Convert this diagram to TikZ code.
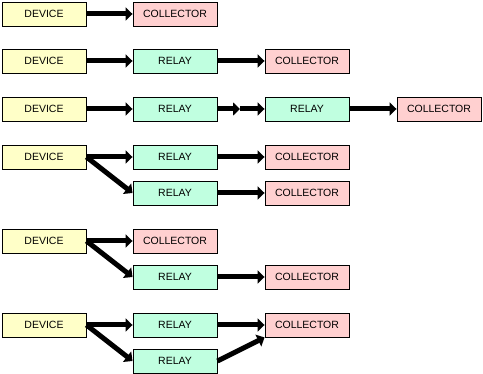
\documentclass[tikz,border=0pt]{standalone}
\usepackage{fontspec}
\setmainfont{Liberation Sans}
\usetikzlibrary{arrows.meta,positioning}
\definecolor{devfill}{HTML}{FFFFC8}
\definecolor{relfill}{HTML}{C0FFE0}
\definecolor{colfill}{HTML}{FFD0D0}
\begin{document}
\begin{tikzpicture}[x=1pt, y=-1pt,
  box/.style={draw=black, line width=0.9pt, minimum width=84pt,
              minimum height=24pt, inner sep=0pt, font=\fontsize{10.5}{12}\selectfont},
  device/.style={box, fill=devfill},
  relay/.style={box, fill=relfill},
  collector/.style={box, fill=colfill},
  arr/.style={-{Triangle[length=7pt, width=13pt]}, line width=5pt}
]
  \useasboundingbox (0,0) rectangle (483,374);

  % Direct
  \node[device] (dev1) at (44,14) {DEVICE};
  \node[collector] (col1) at (175,14) {COLLECTOR};
  \draw[arr] (dev1) -- (col1);

  % One relay
  \node[device] (dev2) at (44,61) {DEVICE};
  \node[relay] (rel2) at (175,61) {RELAY};
  \node[collector] (col2) at (307,61) {COLLECTOR};
  \draw[arr] (dev2) -- (rel2);
  \draw[arr] (rel2) -- (col2);

  % Two relays in a row
  \node[device] (dev3) at (44,109) {DEVICE};
  \node[relay] (rel3a) at (175,109) {RELAY};
  \node[relay] (rel3b) at (307,109) {RELAY};
  \node[collector] (col3) at (439,109) {COLLECTOR};
  \coordinate (mid3) at (240,109);
  \draw[arr] (dev3) -- (rel3a);
  \draw[arr] (rel3a) -- (mid3);
  \draw[arr] (mid3) -- (rel3b);
  \draw[arr] (rel3b) -- (col3);

  % Fan out to two relays
  \node[device] (dev4) at (44,157) {DEVICE};
  \node[relay] (rel4a) at (175,157) {RELAY};
  \node[relay] (rel4b) at (175,193) {RELAY};
  \node[collector] (col4a) at (307,157) {COLLECTOR};
  \node[collector] (col4b) at (307,193) {COLLECTOR};
  \draw[arr] (dev4.east) -- (rel4a);
  \draw[arr] (dev4.east) -- (rel4b.west);
  \draw[arr] (rel4a) -- (col4a);
  \draw[arr] (rel4b) -- (col4b);

  % Collector plus relay
  \node[device] (dev5) at (44,241) {DEVICE};
  \node[collector] (col5a) at (175,241) {COLLECTOR};
  \node[relay] (rel5) at (175,277) {RELAY};
  \node[collector] (col5b) at (307,277) {COLLECTOR};
  \draw[arr] (dev5.east) -- (col5a);
  \draw[arr] (dev5.east) -- (rel5.west);
  \draw[arr] (rel5) -- (col5b);

  % Two relays into one collector
  \node[device] (dev6) at (44,325) {DEVICE};
  \node[relay] (rel6a) at (175,325) {RELAY};
  \node[relay] (rel6b) at (175,361) {RELAY};
  \node[collector] (col6) at (307,325) {COLLECTOR};
  \draw[arr] (dev6.east) -- (rel6a);
  \draw[arr] (dev6.east) -- (rel6b.west);
  \draw[arr] (rel6a) -- (col6);
  \draw[arr] (rel6b.east) -- (col6.south west);
\end{tikzpicture}
\end{document}
